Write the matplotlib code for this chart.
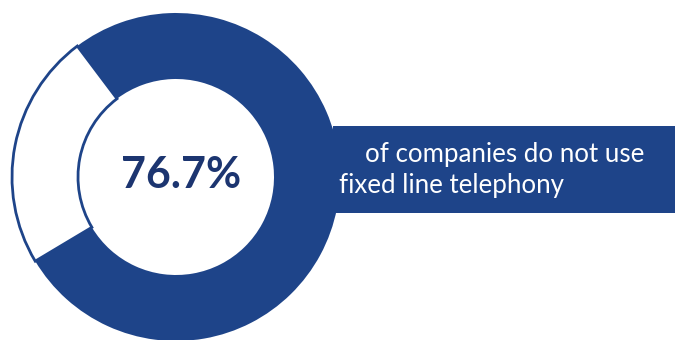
import matplotlib
matplotlib.use("Agg")
import matplotlib.pyplot as plt
from matplotlib.patches import Rectangle

# Share of companies by use of fixed line telephony
labels = ["Do not use fixed line telephony", "Use fixed line telephony"]
shares = [76.7, 23.3]
headline = "76.7%"
caption_lines = ["of companies do not use", "fixed line telephony"]

BLUE = "#1E4489"
NAVY = "#1C3570"

W, H = 675, 340
fig = plt.figure(figsize=(W / 100, H / 100), dpi=100)
ax = fig.add_axes([0, 0, 1, 1])
ax.set_axis_off()

cx, cy = 176, 163
r_out, ring = 164, 66

# Banner behind the ring
ax.add_patch(Rectangle((333, 127), W - 333, 87, facecolor=BLUE,
                       edgecolor="none", zorder=1))

wedges, _ = ax.pie(shares, colors=[BLUE, "white"], startangle=127,
                   counterclock=False, center=(cx, cy), radius=r_out,
                   wedgeprops=dict(width=ring, linewidth=0))
for w in wedges:
    w.set_zorder(2)
wedges[1].set_edgecolor(BLUE)
wedges[1].set_linewidth(2.0)
wedges[1].set_zorder(3)

ax.set_xlim(0, W)
ax.set_ylim(0, H)
ax.set_aspect("equal")

ax.text(cx + 5, cy + 2, headline, ha="center", va="center",
        fontsize=31, fontweight="bold", color=NAVY, family="Lato", zorder=4)

ax.text(365, 340 - 162, caption_lines[0], ha="left", va="baseline",
        fontsize=18.6, color="white", family="Lato", zorder=4)
ax.text(339, 340 - 193, caption_lines[1], ha="left", va="baseline",
        fontsize=18.6, color="white", family="Lato", zorder=4)

fig.savefig("out.png", dpi=100, facecolor="white")
